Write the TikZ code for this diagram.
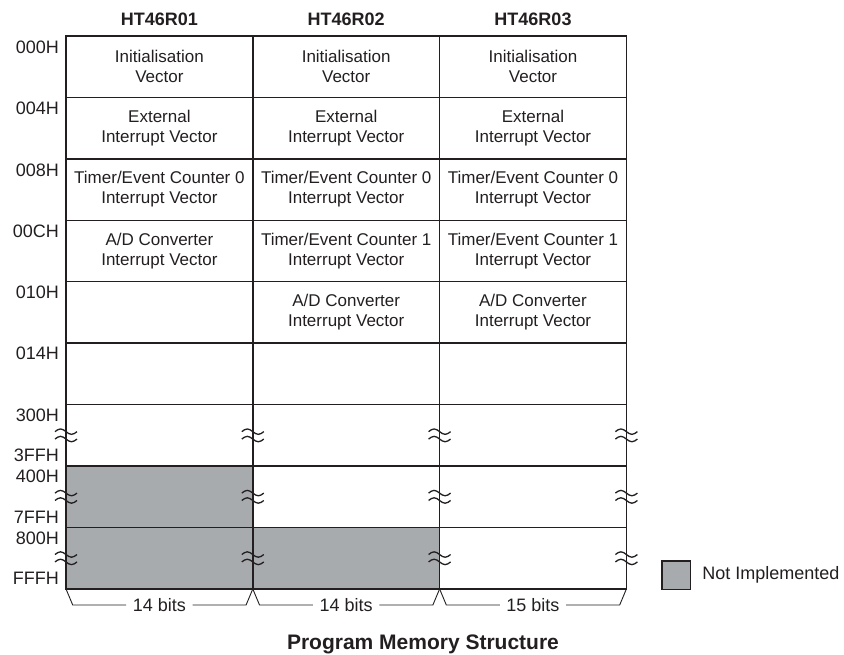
\documentclass[tikz,border=0pt]{standalone}
\usepackage{xcolor}
\usepackage{fontspec}
\setmainfont{Liberation Sans}
\usepackage{tikz}
\usetikzlibrary{positioning}
\definecolor{ink}{HTML}{231F20}
\definecolor{notimp}{HTML}{A8ABAE}

\begin{document}
\begin{tikzpicture}[
  x=1pt, y=1pt,
  node distance=0pt,
  cell/.style={draw=ink, line width=1.4pt, minimum width=186.8pt,
               minimum height=61.44pt, inner sep=0pt, outer sep=0pt,
               font=\fontsize{17}{20}\selectfont, text=ink, align=center},
  unimpl/.style={cell, fill=notimp},
  head/.style={font=\bfseries\fontsize{18}{20}\selectfont, text=ink, inner sep=0pt},
  addr/.style={font=\fontsize{18}{20}\selectfont, text=ink, inner sep=0pt, anchor=east},
  bits/.style={font=\fontsize{18}{20}\selectfont, text=ink, inner ysep=0pt, inner xsep=6.5pt},
  brace/.style={draw=ink, line width=0.9pt},
  brk/.pic={
    \draw[ink, line width=1.3pt] (-11,3.7) sin (-5.5,6.4) cos (0,3.7) sin (5.5,1) cos (11,3.7);
    \draw[ink, line width=1.3pt] (-11,-3.7) sin (-5.5,-1) cos (0,-3.7) sin (5.5,-6.4) cos (11,-3.7);
  }
]
  \useasboundingbox (0,0) rectangle (844,655);

  % HT46R01 column
  \node[cell] (a1) at (159.4,588.28) {Initialisation\\Vector};
  \node[cell, below=of a1] (a2) {External\\Interrupt Vector};
  \node[cell, below=of a2] (a3) {Timer/Event Counter 0\\Interrupt Vector};
  \node[cell, below=of a3] (a4) {A/D Converter\\Interrupt Vector};
  \node[cell, below=of a4] (a5) {};
  \node[cell, below=of a5] (a6) {};
  \node[cell, below=of a6] (a7) {};
  \node[unimpl, below=of a7] (a8) {};
  \node[unimpl, below=of a8] (a9) {};

  % HT46R02 column
  \node[cell, right=of a1] (b1) {Initialisation\\Vector};
  \node[cell, below=of b1] (b2) {External\\Interrupt Vector};
  \node[cell, below=of b2] (b3) {Timer/Event Counter 0\\Interrupt Vector};
  \node[cell, below=of b3] (b4) {Timer/Event Counter 1\\Interrupt Vector};
  \node[cell, below=of b4] (b5) {A/D Converter\\Interrupt Vector};
  \node[cell, below=of b5] (b6) {};
  \node[cell, below=of b6] (b7) {};
  \node[cell, below=of b7] (b8) {};
  \node[unimpl, below=of b8] (b9) {};

  % HT46R03 column
  \node[cell, right=of b1] (c1) {Initialisation\\Vector};
  \node[cell, below=of c1] (c2) {External\\Interrupt Vector};
  \node[cell, below=of c2] (c3) {Timer/Event Counter 0\\Interrupt Vector};
  \node[cell, below=of c3] (c4) {Timer/Event Counter 1\\Interrupt Vector};
  \node[cell, below=of c4] (c5) {A/D Converter\\Interrupt Vector};
  \node[cell, below=of c5] (c6) {};
  \node[cell, below=of c6] (c7) {};
  \node[cell, below=of c7] (c8) {};
  \node[cell, below=of c8] (c9) {};

  % Headers
  \node[head, above=10pt of a1] (ha) {HT46R01};
  \node[head, above=10pt of b1] (hb) {HT46R02};
  \node[head, above=10pt of c1] (hc) {HT46R03};

  % Addresses
  \node[addr] (l000) at ([xshift=-7pt, yshift=-11pt]a1.north west) {000H};
  \node[addr] (l004) at ([xshift=-7pt, yshift=-11pt]a2.north west) {004H};
  \node[addr] (l008) at ([xshift=-7pt, yshift=-11pt]a3.north west) {008H};
  \node[addr] (l00c) at ([xshift=-7pt, yshift=-11pt]a4.north west) {00CH};
  \node[addr] (l010) at ([xshift=-7pt, yshift=-11pt]a5.north west) {010H};
  \node[addr] (l014) at ([xshift=-7pt, yshift=-10pt]a6.north west) {014H};
  \node[addr] (l300) at ([xshift=-7pt, yshift=-11pt]a7.north west) {300H};
  \node[addr] (l3ff) at ([xshift=-7pt, yshift=10.5pt]a7.south west) {3FFH};
  \node[addr] (l400) at ([xshift=-7pt, yshift=-10pt]a8.north west) {400H};
  \node[addr] (l7ff) at ([xshift=-7pt, yshift=10.5pt]a8.south west) {7FFH};
  \node[addr] (l800) at ([xshift=-7pt, yshift=-10.5pt]a9.north west) {800H};
  \node[addr] (lfff) at ([xshift=-7pt, yshift=10.5pt]a9.south west) {FFFH};

  % Breaks
  \path (a7.west) pic {brk} (a7.east) pic {brk} (b7.east) pic {brk} (c7.east) pic {brk};
  \path (a8.west) pic {brk} (a8.east) pic {brk} (b8.east) pic {brk} (c8.east) pic {brk};
  \path (a9.west) pic {brk} (a9.east) pic {brk} (b9.east) pic {brk} (c9.east) pic {brk};

  % Widths
  \node[bits] (wa) at ([yshift=-16pt]a9.south) {14 bits};
  \node[bits] (wb) at ([yshift=-16pt]b9.south) {14 bits};
  \node[bits] (wc) at ([yshift=-16pt]c9.south) {15 bits};

  \draw[brace] (a9.south west) -- ++(6.7,-16) -- (wa.west);
  \draw[brace] (wa.east) -- ([xshift=-6.7pt, yshift=-16pt]a9.south east) -- (a9.south east);
  \draw[brace] (b9.south west) -- ++(6.7,-16) -- (wb.west);
  \draw[brace] (wb.east) -- ([xshift=-6.7pt, yshift=-16pt]b9.south east) -- (b9.south east);
  \draw[brace] (c9.south west) -- ++(6.7,-16) -- (wc.west);
  \draw[brace] (wc.east) -- ([xshift=-6.7pt, yshift=-16pt]c9.south east) -- (c9.south east);

  % Legend
  \node[draw=ink, fill=notimp, line width=1.4pt, minimum size=28.5pt, inner sep=0pt]
    (legbox) at (676.2,79.8) {};
  \node[right=11pt of legbox, inner sep=0pt, text=ink, font=\fontsize{18}{20}\selectfont]
    (legtext) {Not Implemented};

  % Title
  \node[font=\bfseries\fontsize{21}{24}\selectfont, text=ink, anchor=base]
    (title) at (423,5) {Program Memory Structure};
\end{tikzpicture}
\end{document}
